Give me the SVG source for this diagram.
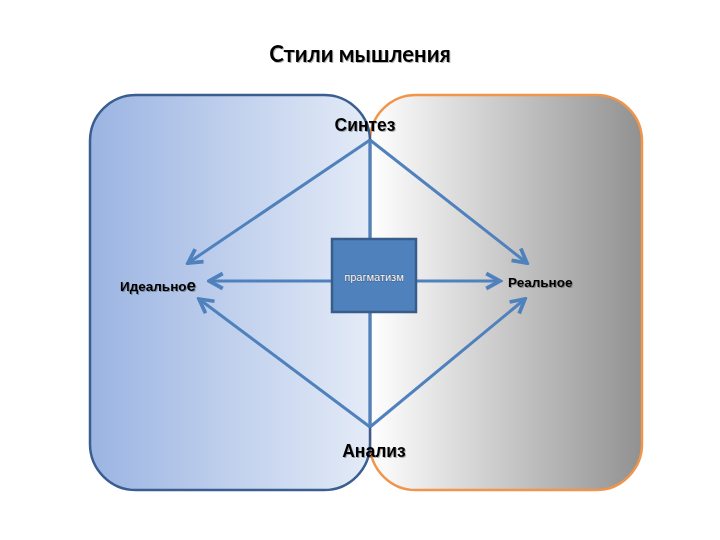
<svg xmlns="http://www.w3.org/2000/svg" width="720" height="540" viewBox="0 0 720 540">
<style>
.lbl{font-family:"Liberation Sans",Arial,sans-serif;font-weight:bold;fill:#000;}
.conn{stroke:#4f81bd;stroke-width:3;fill:none;}
</style>
<defs>
<linearGradient id="gL" x1="0" y1="0" x2="1" y2="0">
<stop offset="0" stop-color="#9bb4e2"/>
<stop offset="1" stop-color="#e4ebf7"/>
</linearGradient>
<linearGradient id="gR" x1="0" y1="0" x2="1" y2="0">
<stop offset="0" stop-color="#ffffff"/>
<stop offset="1" stop-color="#919191"/>
</linearGradient>
<marker id="arr" markerUnits="userSpaceOnUse" markerWidth="20" markerHeight="20" refX="14" refY="8" orient="auto" viewBox="0 0 16 16">
<path d="M3,2 L14,8 L3,14" fill="none" stroke="#4f81bd" stroke-width="3"/>
</marker>
<filter id="sh" x="-10%" y="-30%" width="120%" height="160%">
<feDropShadow dx="1" dy="1" stdDeviation="0.5" flood-color="#000" flood-opacity="0.3"/>
</filter>
</defs>
<rect width="720" height="540" fill="#fff"/>
<g id="title"><text x="360" y="62" text-anchor="middle" font-family="Lato, 'Open Sans', sans-serif" font-weight="bold" font-size="22" filter="url(#sh)">Стили мышления</text></g>
<g id="real-area"><rect x="370" y="95" width="272" height="395" rx="46" ry="46" fill="url(#gR)" stroke="#f0954a" stroke-width="2.5"/></g>
<g id="ideal-area"><rect x="90" y="95" width="280" height="395" rx="46" ry="46" fill="url(#gL)" stroke="#3b5e91" stroke-width="2.5"/></g>
<g id="connectors">
<line class="conn" x1="370" y1="140" x2="370" y2="427"/>
<line class="conn" x1="370" y1="140" x2="188" y2="263" marker-end="url(#arr)"/>
<line class="conn" x1="370" y1="140" x2="527" y2="263" marker-end="url(#arr)"/>
<line class="conn" x1="370" y1="427" x2="199" y2="299" marker-end="url(#arr)"/>
<line class="conn" x1="370" y1="427" x2="525" y2="299" marker-end="url(#arr)"/>
<line class="conn" x1="332" y1="281" x2="209" y2="281" marker-end="url(#arr)"/>
<line class="conn" x1="416" y1="281" x2="500" y2="281" marker-end="url(#arr)"/>
</g>
<g id="pragmatism">
<rect x="332" y="239" width="84" height="73" fill="#4f81bd" stroke="#385d8a" stroke-width="2.5"/>
<text x="374" y="281" text-anchor="middle" font-family="'Liberation Sans',Arial,sans-serif" font-size="11" fill="#fff" stroke="#1f3552" stroke-width="0.6" paint-order="stroke">прагматизм</text>
</g>
<g id="synthesis"><text class="lbl" x="365" y="131" text-anchor="middle" font-size="17.5" filter="url(#sh)">Синтез</text></g>
<g id="analysis"><text class="lbl" x="374" y="457" text-anchor="middle" font-size="17.5" filter="url(#sh)">Анализ</text></g>
<g id="ideal"><text class="lbl" x="120" y="291" font-size="13.5" filter="url(#sh)">Идеально<tspan font-size="17">е</tspan></text></g>
<g id="real"><text class="lbl" x="508" y="287" font-size="13.5" filter="url(#sh)">Реальное</text></g>
</svg>
